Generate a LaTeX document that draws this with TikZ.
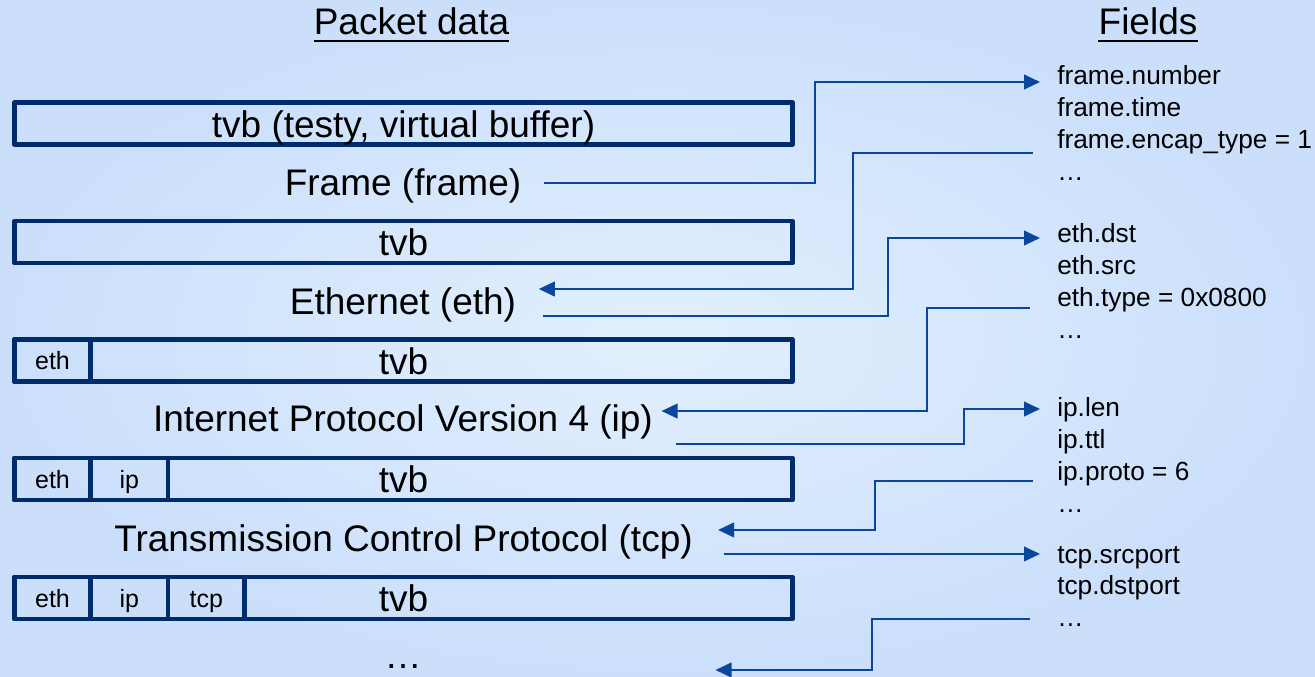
\documentclass[tikz,border=0pt]{standalone}
\usepackage{fontspec}
\setmainfont{Liberation Sans}
\usetikzlibrary{arrows.meta}
\definecolor{bgin}{HTML}{E2F0FE}
\definecolor{bgout}{HTML}{CBDFFB}
\definecolor{bufc}{HTML}{002C6C}
\definecolor{linkc}{HTML}{0A469E}

\begin{document}
\begin{tikzpicture}[x=0.75pt,y=-0.75pt,
  big/.style={font=\fontsize{27.75pt}{33pt}\selectfont, inner sep=0pt},
  lbl/.style={big, anchor=base},
  fld/.style={font=\fontsize{19.7pt}{24pt}\selectfont, inner sep=0pt, anchor=base west},
  buf/.style={draw=bufc, line width=3.6pt, line join=round, big,
    minimum width=583.5pt, minimum height=31.5pt, inner sep=0pt,
    text height=20.3pt, text depth=0pt},
  cell/.style={draw=bufc, line width=3.6pt, line join=round,
    minimum height=31.5pt, inner sep=0pt, text height=13.7pt, text depth=0pt,
    font=\fontsize{18.75pt}{22pt}\selectfont},
  link/.style={draw=linkc, line width=1.5pt},
  tip/.style={link, -{Triangle[length=12pt,width=11pt]}},
]
% page and background
\useasboundingbox (0,0) rectangle (1315,677);
\shade[inner color=bgin, outer color=bgout] (0,0) rectangle (1315,677);

% column headings
\node[lbl] (hpkt) at (411.5,35) {Packet data};
\node[lbl] (hfld) at (1148,35) {Fields};
\draw[line width=2pt] ([yshift=-4.5pt]hpkt.base west) -- ([yshift=-4.5pt]hpkt.base east);
\draw[line width=2pt] ([yshift=-4.5pt]hfld.base west) -- ([yshift=-4.5pt]hfld.base east);

% buffers
\node[buf] (b1) at (403.5,123.5) {tvb (testy, virtual buffer)};
\node[buf] (b2) at (403.5,242) {tvb};
\node[buf] (b3) at (403.5,360.5) {tvb};
\node[buf] (b4) at (403.5,479) {tvb};
\node[buf] (b5) at (403.5,598) {tvb};

% consumed header cells
\node[cell, minimum width=57pt]   (b3eth) at (52.5,360.5) {eth};
\node[cell, minimum width=57pt]   (b4eth) at (52.5,479) {eth};
\node[cell, minimum width=58.1pt] (b4ip)  at (129.25,479) {ip};
\node[cell, minimum width=57pt]   (b5eth) at (52.5,598) {eth};
\node[cell, minimum width=58.1pt] (b5ip)  at (129.25,598) {ip};
\node[cell, minimum width=57.4pt] (b5tcp) at (206.25,598) {tcp};

% dissectors
\node[lbl] (pframe) at (403,196) {Frame (frame)};
\node[lbl] (peth)   at (403,315) {Ethernet (eth)};
\node[lbl] (pip)    at (403,431.7) {Internet Protocol Version 4 (ip)};
\node[lbl] (ptcp)   at (403.5,551.7) {Transmission Control Protocol (tcp)};
\node[lbl] (pmore)  at (403,668) {…};

% fields
\node[fld] (f11) at (1057,85)    {frame.number};
\node[fld] (f12) at (1057,116.8) {frame.time};
\node[fld] (f13) at (1057,148.6) {frame.encap\_type = 1};
\node[fld] (f14) at (1057,180.4) {…};
\node[fld] (f21) at (1057,243)   {eth.dst};
\node[fld] (f22) at (1057,274.8) {eth.src};
\node[fld] (f23) at (1057,306.6) {eth.type = 0x0800};
\node[fld] (f24) at (1057,338.4) {…};
\node[fld] (f31) at (1057,417)   {ip.len};
\node[fld] (f32) at (1057,448.8) {ip.ttl};
\node[fld] (f33) at (1057,480.6) {ip.proto = 6};
\node[fld] (f34) at (1057,512.4) {…};
\node[fld] (f41) at (1057,563)   {tcp.srcport};
\node[fld] (f42) at (1057,594.8) {tcp.dstport};
\node[fld] (f43) at (1057,626.6) {…};

% connector ends
\coordinate (s1) at ([xshift=16.8pt,yshift=9.75pt]pframe.base east);
\coordinate (t1) at ([xshift=-12.75pt,yshift=2.25pt]f11.base west);
\coordinate (s2) at ([xshift=-18.3pt,yshift=-3.5pt]f13.base west);
\coordinate (t2) at ([xshift=16.8pt,yshift=19.5pt]peth.base east);
\coordinate (s3) at ([xshift=19.8pt,yshift=-0.75pt]peth.base east);
\coordinate (t3) at ([xshift=-12.75pt,yshift=3.75pt]f21.base west);
\coordinate (s4) at ([xshift=-20.5pt,yshift=-0.75pt]f23.base west);
\coordinate (t4) at ([xshift=6.3pt,yshift=15.5pt]pip.base east);
\coordinate (s5) at ([xshift=17.3pt,yshift=-9.5pt]pip.base east);
\coordinate (t5) at ([xshift=-12.75pt,yshift=6pt]f31.base west);
\coordinate (s6) at ([xshift=-18.3pt,yshift=-0.5pt]f33.base west);
\coordinate (t6) at ([xshift=18.8pt,yshift=16.3pt]ptcp.base east);
\coordinate (s7) at ([xshift=23.5pt,yshift=-1.7pt]ptcp.base east);
\coordinate (t7) at ([xshift=-12.75pt,yshift=6.75pt]f41.base west);
\coordinate (s8) at ([xshift=-20.5pt,yshift=6pt]f43.base west);
\coordinate (t8) at (715.5,670);

% vertical runs of the connectors
\coordinate (k1) at (814.5,0);
\coordinate (k2) at (853.4,0);
\coordinate (k3) at (887.6,0);
\coordinate (k4) at (927.3,0);
\coordinate (k5) at (964,0);
\coordinate (k6) at (875,0);
\coordinate (k8) at (872,0);

% connectors
\draw[tip] (s1) -- (s1 -| k1) |- (t1);
\draw[tip] (s2) -- (s2 -| k2) |- (t2);
\draw[tip] (s3) -- (s3 -| k3) |- (t3);
\draw[tip] (s4) -- (s4 -| k4) |- (t4);
\draw[tip] (s5) -- (s5 -| k5) |- (t5);
\draw[tip] (s6) -- (s6 -| k6) |- (t6);
\draw[tip] (s7) -- (t7 |- s7);
\draw[tip] (s8) -- (s8 -| k8) |- (t8);
\end{tikzpicture}
\end{document}
